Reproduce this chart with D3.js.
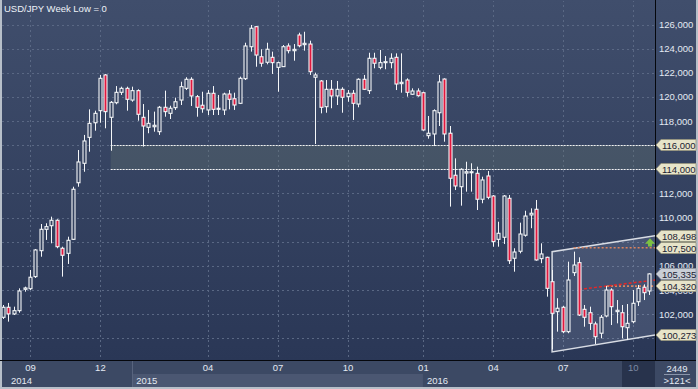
<!DOCTYPE html>
<html>
  <head>
    <meta charset='utf-8'>
    <title>USD/JPY Week</title>
    <script src='https://d3js.org/d3.v7.min.js'></script>
    <style>
      body { margin: 0; background: #b7bfc9; overflow: hidden; }
      text { font-family: 'Liberation Sans', Arial, sans-serif; }
    </style>
  </head>
  <body>
    <div id='grafico'></div>
    <script>
    // Velas semanales (una por semana, índice 0 = primera visible)
    const open  = [101.74,102.57,102.02,102.29,104.06,104.11,105.11,107.26,109.03,109.33,
                   109.78,107.46,107.04,108.20,112.89,114.50,116.65,117.86,118.86,121.82,
                   118.31,119.52,120.38,120.71,119.74,120.52,118.31,117.48,117.53,117.12,
                   119.14,118.64,119.11,119.74,120.71,121.46,120.02,119.31,118.92,120.30,
                   118.97,118.92,120.24,119.85,119.47,121.51,124.16,125.82,123.33,122.87,
                   123.28,122.45,122.51,124.22,123.83,125.13,124.33,124.38,121.63,121.32,
                   119.19,120.63,120.08,120.63,120.02,120.30,119.41,121.46,120.52,123.20,
                   122.45,122.87,122.84,123.28,121.10,121.40,120.22,120.49,120.35,116.79,
                   116.93,118.69,121.48,116.99,113.51,112.56,113.69,113.72,113.67,111.52,
                   113.45,111.79,108.20,108.37,111.60,106.63,107.21,108.54,110.22,110.69,
                   106.60,106.71,104.69,102.21,102.57,100.55,105.44,106.27,102.40,102.12,
                   101.19,100.42,101.85,104.00,102.21,102.12,100.88,101.38,103.03,104.23,
                   103.92];
    const high  = [102.76,102.93,102.62,104.14,104.28,105.66,107.40,109.47,109.53,110.08,
                   109.86,107.59,108.42,112.56,115.60,116.85,118.97,118.86,121.82,121.90,
                   119.66,120.90,120.85,120.85,120.85,120.63,119.41,118.92,118.78,119.25,
                   120.52,119.27,119.94,121.26,121.63,121.63,120.16,120.43,120.57,120.90,
                   120.16,120.35,120.57,120.35,121.68,124.49,125.96,125.88,123.95,124.49,
                   123.75,122.92,124.30,124.44,124.38,125.32,125.40,124.66,122.01,121.40,
                   121.40,121.40,121.32,120.80,120.57,120.57,121.54,121.82,123.66,123.66,
                   123.89,123.39,123.61,123.61,123.61,121.54,120.71,120.71,120.43,118.42,
                   118.97,121.82,121.54,117.59,114.91,114.09,114.63,114.50,114.22,113.39,
                   113.86,111.87,109.66,111.87,111.87,107.46,109.58,110.57,110.77,111.46,
                   107.87,106.76,105.66,103.32,102.68,106.35,107.18,106.71,102.76,102.62,
                   101.38,101.93,104.34,104.14,103.17,102.76,102.84,104.00,104.42,104.47,
                   105.39];
    const low   = [101.60,101.38,101.93,102.12,103.86,104.00,105.00,106.76,108.15,107.87,
                   107.46,105.11,106.16,108.15,112.56,113.80,115.46,117.20,117.86,117.40,
                   115.54,119.39,120.16,118.86,119.60,118.03,115.88,116.99,117.12,116.85,
                   118.36,118.17,118.92,119.33,120.57,119.25,118.36,118.69,118.50,118.50,
                   118.50,118.50,118.97,118.92,119.41,121.40,123.75,122.50,122.50,122.70,
                   121.90,120.43,122.51,123.61,123.00,124.11,123.83,121.82,116.10,118.64,
                   118.69,119.06,119.33,118.69,119.60,118.09,119.14,120.57,120.24,122.37,
                   122.29,122.29,122.37,120.57,120.35,120.02,120.16,120.02,117.20,116.54,
                   115.93,117.59,116.29,110.91,112.29,110.99,112.15,112.15,110.63,111.19,
                   111.52,107.59,107.59,107.81,106.16,105.52,107.04,108.42,109.12,106.43,
                   106.22,103.45,99.10,100.55,100.42,100.42,105.16,101.85,100.96,100.69,
                   99.53,100.00,101.74,101.10,101.24,100.00,99.86,101.24,102.68,103.17,
                   103.59];
    const close = [102.57,102.02,102.29,103.92,104.17,105.06,107.32,109.03,109.25,109.78,
                   107.59,106.88,108.12,112.35,114.61,116.35,117.81,118.64,121.54,118.78,
                   119.55,120.38,120.71,119.80,120.52,118.56,117.59,117.81,117.65,119.14,
                   118.78,119.06,119.60,120.85,121.46,120.08,119.14,119.02,120.30,118.97,
                   119.06,120.24,119.80,119.33,121.54,124.22,125.69,123.47,122.79,123.95,
                   122.84,122.84,124.16,123.83,123.94,124.24,124.44,122.09,121.82,119.14,
                   120.63,120.08,120.63,119.97,120.30,119.47,121.46,120.63,123.20,122.79,
                   122.84,122.92,123.20,121.07,121.21,120.38,120.49,120.10,117.26,116.99,
                   118.86,121.24,116.93,113.26,112.62,114.00,113.80,113.80,111.52,113.12,
                   111.68,108.01,108.70,111.79,106.43,107.15,108.64,110.13,110.36,106.49,
                   106.99,104.14,102.07,102.49,100.55,104.83,106.07,101.93,101.74,101.24,
                   100.13,101.74,104.00,102.62,102.32,100.96,101.24,102.90,104.14,103.78,
                   105.335];

    // Eje temporal: índice de vela -> etiqueta de mes
    const tickIdx    = [5, 18, 38, 51, 64, 78, 91, 104, 117];
    const tickLabels = ['09', '12', '04', '07', '10', '01', '04', '07', '10'];
    const yearIdx    = [0, 24, 78];
    const yearLabels = ['2014', '2015', '2016'];

    // Eje de precios (líneas de cuadrícula) y etiquetas visibles
    const priceTicks  = [100, 102, 104, 106, 108, 110, 112, 114, 116, 118, 120, 122, 124, 126];
    const priceLabels = [102, 104, 106, 110, 112, 118, 120, 122, 124, 126];

    // Zona horizontal 114-116
    const zoneLevels = [116, 114];
    const zoneStart  = 20;

    // Canal alcista (inicio en vela 102, fin en el borde derecho)
    const channelTop    = [107.18, 108.498];
    const channelBottom = [98.87, 100.273];
    const channelStart  = 102;

    // Líneas de nivel y línea de tendencia
    const orangeLevels = [107.5, 104.32];
    const orangeStart  = [106, 112.2];
    const trendLine    = [104.04, 104.83];
    const trendStart   = 107;

    // Etiquetas del eje derecho
    const tagValues = [116, 114, 108.498, 107.5, 105.335, 104.32, 100.273];
    const tagLast   = 105.335;

    // Flecha verde
    const arrowIdx   = 120;
    const arrowRange = [108.3, 107.6];

    const W = 698, H = 389;
    const plot = { left: 2, right: 655, top: 1, bottom: 360 };

    const fmt = v => d3.format('.3f')(v).replace('.', ',');

    const svg = d3.select('#grafico').append('svg')
                  .attr('width', W)
                  .attr('height', H);

    // Escalas
    const xScale = d3.scaleLinear().domain([0, open.length - 1]).range([3, 649]);
    const yScale = d3.scaleLinear().domain([100, 126]).range([338.3, 24.5]);
    const xEnd = xScale.invert(plot.right);

    // Fondo con degradado
    const defs = svg.append('defs');
    const grad = defs.append('linearGradient').attr('id', 'bg')
      .attr('x1', 0).attr('y1', 0).attr('x2', 0).attr('y2', 1);
    grad.append('stop').attr('offset', '0%').attr('stop-color', '#404e6c');
    grad.append('stop').attr('offset', '100%').attr('stop-color', '#2a3756');
    defs.append('clipPath').attr('id', 'clip').append('rect')
      .attr('x', plot.left).attr('y', plot.top)
      .attr('width', plot.right - plot.left).attr('height', plot.bottom - plot.top);

    svg.append('rect').attr('x', 0).attr('y', 0).attr('width', W).attr('height', H)
      .attr('fill', '#b7bfc9');
    svg.append('rect').attr('x', plot.left).attr('y', 0)
      .attr('width', 696 - plot.left).attr('height', plot.bottom)
      .attr('fill', 'url(#bg)');

    // Cuadrícula
    const grid = svg.append('g').attr('clip-path', 'url(#clip)');
    grid.selectAll('line.h').data(priceTicks).enter().append('line')
      .attr('x1', plot.left).attr('x2', plot.right)
      .attr('y1', d => Math.round(yScale(d)) + 0.5)
      .attr('y2', d => Math.round(yScale(d)) + 0.5)
      .attr('stroke', '#5a6884').attr('stroke-dasharray', '2,3');
    grid.selectAll('line.v').data(tickIdx).enter().append('line')
      .attr('x1', d => Math.round(xScale(d)) + 0.5)
      .attr('x2', d => Math.round(xScale(d)) + 0.5)
      .attr('y1', 0).attr('y2', plot.bottom)
      .attr('stroke', '#5a6884').attr('stroke-dasharray', '2,3');

    const g = svg.append('g').attr('clip-path', 'url(#clip)');

    // Zona 114-116
    g.append('rect')
      .attr('x', xScale(zoneStart)).attr('width', plot.right - xScale(zoneStart))
      .attr('y', yScale(zoneLevels[0]))
      .attr('height', yScale(zoneLevels[1]) - yScale(zoneLevels[0]))
      .attr('fill', 'rgba(100,116,110,0.34)');
    g.selectAll('line.zone').data(zoneLevels).enter().append('line')
      .attr('x1', xScale(zoneStart)).attr('x2', plot.right)
      .attr('y1', d => Math.round(yScale(d)) + 0.5)
      .attr('y2', d => Math.round(yScale(d)) + 0.5)
      .attr('stroke', '#f2f2f2').attr('stroke-dasharray', '2,1');

    // Canal
    const chPts = [
      [xScale(channelStart), yScale(channelTop[0])],
      [xScale(xEnd), yScale(channelTop[1])],
      [xScale(xEnd), yScale(channelBottom[1])],
      [xScale(channelStart), yScale(channelBottom[0])]
    ];
    g.append('polygon')
      .attr('points', chPts.map(p => p.join(',')).join(' '))
      .attr('fill', 'rgba(150,162,195,0.22)')
      .attr('stroke', 'none');
    g.append('polyline')
      .attr('points', [chPts[1], chPts[0], chPts[3], chPts[2]].map(p => p.join(',')).join(' '))
      .attr('fill', 'none').attr('stroke', '#d8dce4').attr('stroke-width', 1.5);

    // Niveles naranjas
    g.selectAll('line.orange').data(orangeLevels).enter().append('line')
      .attr('x1', (d, i) => xScale(orangeStart[i])).attr('x2', plot.right)
      .attr('y1', d => yScale(d)).attr('y2', d => yScale(d))
      .attr('stroke', '#d9825f').attr('stroke-width', 1.6).attr('stroke-dasharray', '2,2');

    // Línea de tendencia roja
    g.append('line')
      .attr('x1', xScale(trendStart)).attr('y1', yScale(trendLine[0]))
      .attr('x2', plot.right).attr('y2', yScale(trendLine[1]))
      .attr('stroke', '#e82626').attr('stroke-width', 1.4).attr('stroke-dasharray', '3,2');

    // Velas
    const candles = g.selectAll('g.candle').data(open.map((o, i) => i)).enter()
      .append('g');
    candles.append('line')
      .attr('x1', i => Math.round(xScale(i)) + 0.5)
      .attr('x2', i => Math.round(xScale(i)) + 0.5)
      .attr('y1', i => yScale(high[i]))
      .attr('y2', i => yScale(low[i]))
      .attr('stroke', '#f4f6f8').attr('stroke-width', 1);
    candles.append('rect')
      .attr('x', i => Math.round(xScale(i)) - 1)
      .attr('width', 3)
      .attr('y', i => yScale(Math.max(open[i], close[i])))
      .attr('height', i => Math.max(1, Math.abs(yScale(open[i]) - yScale(close[i]))))
      .attr('fill', i => close[i] < open[i] ? '#e0183e' : '#34425f')
      .attr('stroke', '#f4f6f8').attr('stroke-width', 1.1);

    // Flecha verde
    const ax = xScale(arrowIdx) + 1, at = yScale(arrowRange[0]), ab = yScale(arrowRange[1]);
    svg.append('polygon')
      .attr('points', [[ax - 5, at + 5.5], [ax, at], [ax + 5, at + 5.5], [ax + 2, at + 5.5],
                       [ax + 2, ab], [ax - 2, ab], [ax - 2, at + 5.5]].map(p => p.join(',')).join(' '))
      .attr('fill', '#7dc142');

    // Eje derecho
    svg.append('line').attr('x1', plot.right + 0.5).attr('x2', plot.right + 0.5)
      .attr('y1', 0).attr('y2', 387).attr('stroke', '#05070c');
    const yAxis = d3.axisRight(yScale).tickValues(priceLabels).tickFormat(fmt)
      .tickSize(0).tickPadding(4);
    const ya = svg.append('g').attr('transform', 'translate(' + plot.right + ',0)').call(yAxis);
    ya.select('.domain').remove();
    ya.selectAll('text').attr('fill', '#e4eaf3').style('font-size', '9.5px')
      .attr('font-family', "'Liberation Sans', Arial, sans-serif");

    // Etiquetas tipo marcador
    const tags = svg.selectAll('g.tag').data(tagValues).enter().append('g')
      .attr('transform', d => 'translate(' + (plot.right + 1) + ',' + Math.round(yScale(d)) + ')');
    tags.append('path')
      .attr('d', 'M0,0 L5,-5.5 L40,-5.5 L40,5.5 L5,5.5 Z')
      .attr('fill', d => d === tagLast ? '#c9ced7' : '#e7e4c9')
      .attr('stroke', d => d === tagLast ? '#8d939e' : '#98957c').attr('stroke-width', 0.8);
    tags.append('text')
      .attr('x', 6).attr('y', 3.5)
      .attr('fill', '#1b2232').style('font-size', '9.5px')
      .text(fmt);

    // Eje inferior
    svg.append('rect').attr('x', plot.left).attr('y', plot.bottom)
      .attr('width', 696 - plot.left).attr('height', 27).attr('fill', '#3c4964');
    svg.append('rect').attr('x', xScale(yearIdx[1])).attr('y', 374)
      .attr('width', xScale(yearIdx[2]) - xScale(yearIdx[1])).attr('height', 13)
      .attr('fill', '#4b5772');
    svg.append('line').attr('x1', Math.round(xScale(yearIdx[1])) + 0.5)
      .attr('x2', Math.round(xScale(yearIdx[1])) + 0.5)
      .attr('y1', plot.bottom).attr('y2', 387).attr('stroke', '#58647e');
    svg.append('rect').attr('x', 622).attr('y', plot.bottom + 1)
      .attr('width', plot.right - 622).attr('height', 26).attr('fill', '#28334c');

    const xAxis = d3.axisBottom(xScale).tickValues(tickIdx)
      .tickFormat((d, i) => tickLabels[i]).tickSize(0).tickPadding(4);
    const xa = svg.append('g').attr('transform', 'translate(0,' + plot.bottom + ')').call(xAxis);
    xa.select('.domain').remove();
    xa.selectAll('text').attr('fill', (d, i) => i === tickIdx.length - 1 ? '#7d8aa3' : '#e4eaf3')
      .style('font-size', '9.5px')
      .attr('font-family', "'Liberation Sans', Arial, sans-serif");

    svg.selectAll('text.year').data(yearLabels).enter().append('text')
      .attr('x', (d, i) => i === 0 ? 11 : xScale(yearIdx[i]) + 4)
      .attr('y', 384)
      .attr('fill', '#e4eaf3').style('font-size', '9.5px')
      .text(d => d);

    svg.append('line').attr('x1', 0).attr('x2', 696)
      .attr('y1', plot.bottom + 0.5).attr('y2', plot.bottom + 0.5).attr('stroke', '#05070c');

    // Caja inferior derecha
    svg.append('text').attr('x', 677).attr('y', 372).attr('text-anchor', 'middle')
      .attr('fill', '#e4eaf3').style('font-size', '9.5px').text('2449');
    svg.append('line').attr('x1', 664).attr('x2', 690).attr('y1', 374.5).attr('y2', 374.5)
      .attr('stroke', '#8a95aa');
    svg.append('text').attr('x', 677).attr('y', 384).attr('text-anchor', 'middle')
      .attr('fill', '#e4eaf3').style('font-size', '9.5px').text('>121<');

    // Título
    svg.append('text').attr('x', 4).attr('y', 12)
      .attr('fill', '#eef2f8').style('font-size', '9.5px')
      .text('USD/JPY Week Low = 0');
    </script>
  </body>
</html>
